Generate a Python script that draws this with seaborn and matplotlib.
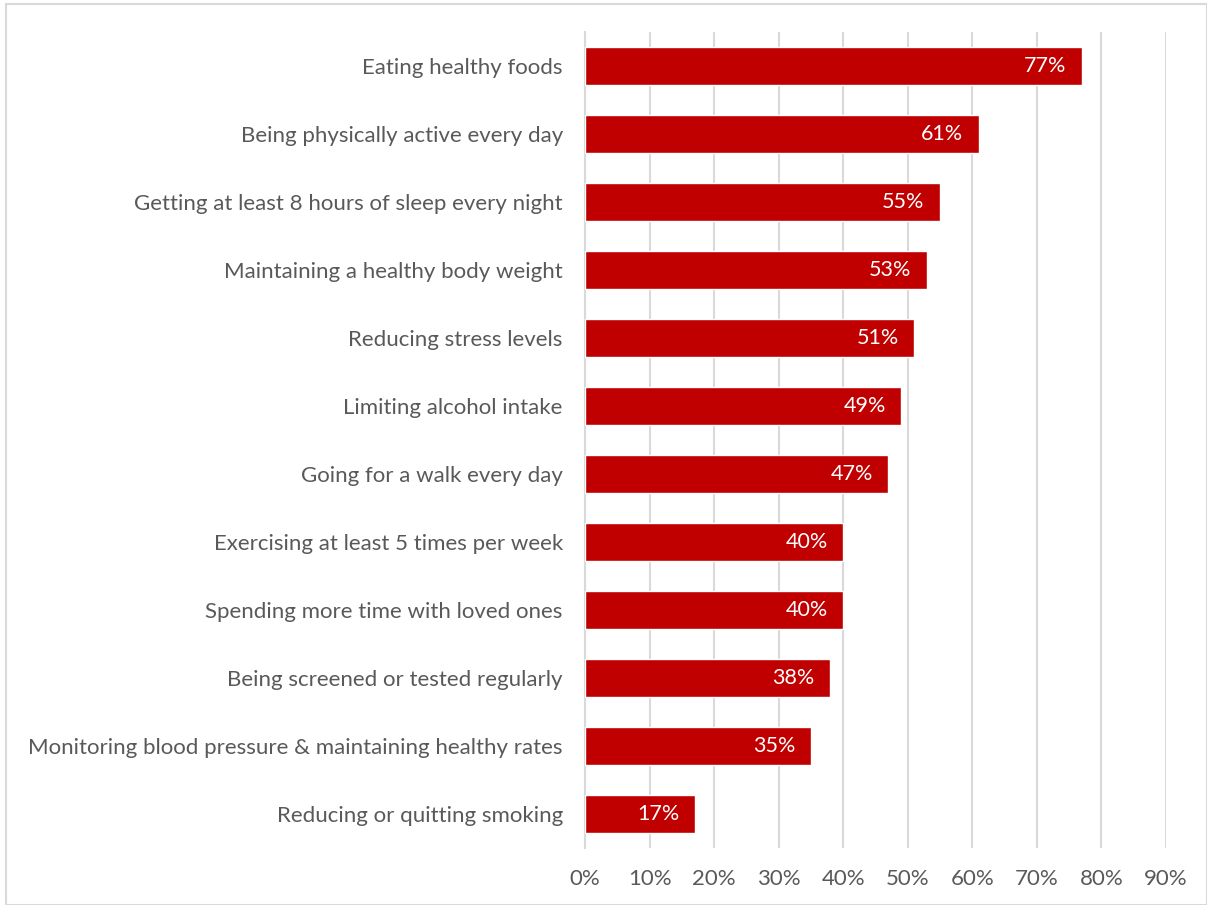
import matplotlib
matplotlib.use("Agg")
import matplotlib.pyplot as plt
import seaborn as sns
import pandas as pd
from matplotlib.patches import Rectangle

categories = [
    "Eating healthy foods",
    "Being physically active every day",
    "Getting at least 8 hours of sleep every night",
    "Maintaining a healthy body weight",
    "Reducing stress levels",
    "Limiting alcohol intake",
    "Going for a walk every day",
    "Exercising at least 5 times per week",
    "Spending more time with loved ones",
    "Being screened or tested regularly",
    "Monitoring blood pressure & maintaining healthy rates",
    "Reducing or quitting smoking",
]
values = [77, 61, 55, 53, 51, 49, 47, 40, 40, 38, 35, 17]
x_ticks = [0, 10, 20, 30, 40, 50, 60, 70, 80, 90]

df = pd.DataFrame({"category": categories, "value": values})

sns.set_theme(style="white")
plt.rcParams["font.family"] = ["Lato", "DejaVu Sans"]

fig = plt.figure(figsize=(12.07, 9.05), dpi=100)
ax = fig.add_axes([0.4847, 0.063, 0.966 - 0.4847, 0.9646 - 0.063])

sns.barplot(data=df, x="value", y="category", orient="h", color="#C00000",
            saturation=1, width=0.57, ax=ax, zorder=3)

for i, v in enumerate(values):
    ax.text(v - 2.4, i, f"{v}%", ha="right", va="center", color="white",
            fontsize=15.5, zorder=4)

ax.set_xlim(0, 90)
ax.set_ylim(11.5, -0.5)
ax.set_xticks(x_ticks)
ax.set_xticklabels([f"{t}%" for t in x_ticks])
ax.xaxis.grid(True, color="#D9D9D9", linewidth=1.5, zorder=0)
ax.set_xlabel("")
ax.set_ylabel("")
ax.tick_params(axis="both", labelsize=16, colors="#595959", length=0)
ax.tick_params(axis="y", pad=16)
ax.tick_params(axis="x", pad=15)
for side in ["top", "right", "bottom"]:
    ax.spines[side].set_visible(False)
ax.spines["left"].set_color("#D9D9D9")
ax.spines["left"].set_linewidth(1.5)

fig.patches.append(Rectangle((0.005, 0.0), 0.995, 0.996, transform=fig.transFigure,
                             fill=False, edgecolor="#D9D9D9", linewidth=1.5))

fig.savefig("out.png", dpi=100)
